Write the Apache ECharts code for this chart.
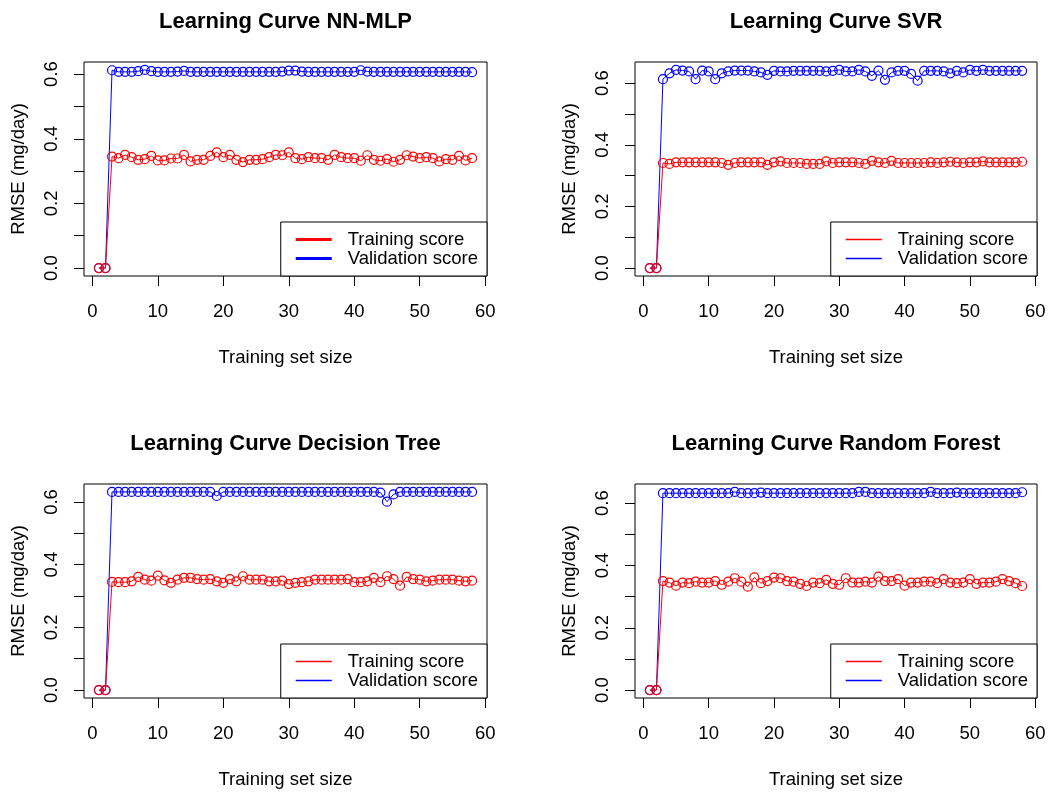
<!DOCTYPE html>
<html>
<head>
<meta charset="utf-8">
<script src="https://cdn.jsdelivr.net/npm/echarts@6/dist/echarts.min.js"></script>
<style>
  html, body { margin: 0; background: #fff; }
  #main { width: 1054px; height: 794px; }
</style>
</head>
<body>
<div id="main"></div>
<script>
// training set sizes (x)
var trainingSize = [1, 2, 3, 4, 5, 6, 7, 8, 9, 10, 11, 12, 13, 14, 15, 16, 17, 18, 19, 20,
  21, 22, 23, 24, 25, 26, 27, 28, 29, 30, 31, 32, 33, 34, 35, 36, 37, 38, 39, 40,
  41, 42, 43, 44, 45, 46, 47, 48, 49, 50, 51, 52, 53, 54, 55, 56, 57, 58];

// NN-MLP
var nnTrain = [0, 0, 0.345, 0.340, 0.350, 0.343, 0.335, 0.337, 0.347, 0.333, 0.333, 0.339,
  0.339, 0.350, 0.330, 0.335, 0.335, 0.347, 0.358, 0.343, 0.350, 0.335,
  0.328, 0.335, 0.335, 0.337, 0.343, 0.350, 0.349, 0.358, 0.340, 0.337,
  0.343, 0.340, 0.340, 0.335, 0.350, 0.343, 0.340, 0.340, 0.332, 0.349,
  0.335, 0.332, 0.337, 0.329, 0.335, 0.349, 0.345, 0.340, 0.343, 0.340,
  0.330, 0.337, 0.335, 0.347, 0.333, 0.340];
var nnValid = [0, 0, 0.612, 0.607, 0.607, 0.607, 0.609, 0.613, 0.609, 0.607, 0.607, 0.607,
  0.608, 0.610, 0.607, 0.607, 0.607, 0.607, 0.607, 0.607, 0.607, 0.607,
  0.607, 0.607, 0.607, 0.607, 0.607, 0.607, 0.608, 0.611, 0.611, 0.608,
  0.607, 0.607, 0.607, 0.607, 0.607, 0.607, 0.607, 0.607, 0.612, 0.608,
  0.607, 0.607, 0.607, 0.607, 0.607, 0.607, 0.607, 0.607, 0.607, 0.607,
  0.607, 0.607, 0.607, 0.607, 0.607, 0.606];

// SVR
var svrTrain = [0, 0, 0.341, 0.338, 0.343, 0.343, 0.343, 0.343, 0.343, 0.343, 0.343, 0.341,
  0.335, 0.341, 0.343, 0.343, 0.343, 0.343, 0.335, 0.343, 0.346, 0.341,
  0.341, 0.341, 0.338, 0.338, 0.338, 0.346, 0.341, 0.343, 0.343, 0.343,
  0.341, 0.338, 0.348, 0.343, 0.341, 0.348, 0.341, 0.341, 0.341, 0.341,
  0.341, 0.343, 0.341, 0.343, 0.345, 0.343, 0.341, 0.343, 0.343, 0.346,
  0.343, 0.343, 0.343, 0.343, 0.343, 0.345];
var svrValid = [0, 0, 0.613, 0.632, 0.643, 0.641, 0.638, 0.613, 0.641, 0.638, 0.613, 0.632,
  0.638, 0.641, 0.641, 0.641, 0.638, 0.635, 0.627, 0.640, 0.638, 0.638,
  0.640, 0.640, 0.640, 0.640, 0.640, 0.638, 0.640, 0.643, 0.638, 0.638,
  0.643, 0.638, 0.624, 0.641, 0.611, 0.635, 0.640, 0.640, 0.630, 0.608,
  0.640, 0.640, 0.640, 0.638, 0.632, 0.640, 0.635, 0.643, 0.640, 0.643,
  0.640, 0.640, 0.640, 0.640, 0.640, 0.640];

// Decision Tree
var dtTrain = [0, 0, 0.345, 0.344, 0.344, 0.347, 0.361, 0.352, 0.349, 0.365, 0.350, 0.342,
  0.352, 0.358, 0.358, 0.354, 0.352, 0.354, 0.347, 0.342, 0.354, 0.347,
  0.363, 0.352, 0.352, 0.352, 0.347, 0.347, 0.349, 0.338, 0.342, 0.344,
  0.347, 0.352, 0.352, 0.352, 0.352, 0.352, 0.354, 0.344, 0.344, 0.347,
  0.358, 0.344, 0.363, 0.354, 0.333, 0.361, 0.354, 0.352, 0.347, 0.349,
  0.352, 0.352, 0.352, 0.349, 0.347, 0.349];
var dtValid = [0, 0, 0.632, 0.632, 0.632, 0.632, 0.632, 0.632, 0.632, 0.632, 0.632, 0.632,
  0.632, 0.632, 0.632, 0.632, 0.632, 0.632, 0.619, 0.632, 0.632, 0.632,
  0.632, 0.632, 0.632, 0.632, 0.632, 0.632, 0.632, 0.632, 0.632, 0.632,
  0.632, 0.632, 0.632, 0.632, 0.632, 0.632, 0.632, 0.632, 0.632, 0.632,
  0.632, 0.630, 0.601, 0.624, 0.632, 0.632, 0.632, 0.632, 0.632, 0.632,
  0.632, 0.632, 0.632, 0.632, 0.632, 0.632];

// Random Forest
var rfTrain = [0, 0, 0.350, 0.345, 0.335, 0.345, 0.343, 0.348, 0.345, 0.345, 0.350, 0.338,
  0.348, 0.359, 0.348, 0.332, 0.362, 0.343, 0.350, 0.361, 0.359, 0.350,
  0.348, 0.341, 0.334, 0.345, 0.343, 0.354, 0.341, 0.338, 0.359, 0.345,
  0.345, 0.348, 0.345, 0.364, 0.350, 0.350, 0.356, 0.335, 0.345, 0.345,
  0.348, 0.348, 0.343, 0.356, 0.345, 0.343, 0.345, 0.356, 0.341, 0.345,
  0.345, 0.348, 0.356, 0.350, 0.343, 0.334];
var rfValid = [0, 0, 0.632, 0.632, 0.632, 0.632, 0.632, 0.632, 0.632, 0.632, 0.632, 0.632,
  0.632, 0.636, 0.632, 0.632, 0.632, 0.634, 0.632, 0.632, 0.632, 0.632,
  0.632, 0.632, 0.632, 0.632, 0.632, 0.632, 0.632, 0.632, 0.632, 0.632,
  0.636, 0.636, 0.632, 0.632, 0.632, 0.632, 0.632, 0.632, 0.632, 0.632,
  0.632, 0.636, 0.632, 0.632, 0.632, 0.634, 0.632, 0.632, 0.632, 0.632,
  0.632, 0.632, 0.632, 0.632, 0.632, 0.635];

var xTicks = [0, 10, 20, 30, 40, 50, 60];
var yTicks = [0, 0.1, 0.2, 0.3, 0.4, 0.5, 0.6];
var yLabels = [0, 0.2, 0.4, 0.6];

var font = "'Liberation Sans', Arial, Helvetica, sans-serif";

var panels = [
  { title: 'Learning Curve NN-MLP', train: nnTrain, valid: nnValid, left: 84, top: 62, width: 403, lw: 3 },
  { title: 'Learning Curve SVR', train: svrTrain, valid: svrValid, left: 635, top: 62, width: 402, lw: 1.5 },
  { title: 'Learning Curve Decision Tree', train: dtTrain, valid: dtValid, left: 84, top: 484, width: 403, lw: 1.5 },
  { title: 'Learning Curve Random Forest', train: rfTrain, valid: rfValid, left: 635, top: 484, width: 402, lw: 1.5 }
];
var H = 214;

var titles = [], grids = [], xAxes = [], yAxes = [], legends = [], series = [];

panels.forEach(function (p, i) {
  // R style 4% padding on each side of the data range
  var xMinD = trainingSize[0], xMaxD = trainingSize[trainingSize.length - 1];
  var xPad = (xMaxD - xMinD) * 0.04;
  var yMaxD = Math.max.apply(null, p.train.concat(p.valid));
  var yPad = yMaxD * 0.04;

  titles.push({
    text: p.title, left: p.left + p.width / 2, top: p.top - 51, textAlign: 'center', padding: 0,
    textStyle: { fontSize: 22, fontWeight: 'bold', color: '#000', fontFamily: font }
  });
  grids.push({
    left: p.left, top: p.top, width: p.width, height: H,
    show: true, borderColor: '#000', borderWidth: 1, backgroundColor: 'transparent',
    containLabel: false, outerBoundsMode: 'none'
  });
  xAxes.push({
    gridIndex: i, type: 'value', min: xMinD - xPad, max: xMaxD + xPad,
    axisLine: { show: false, onZero: false }, splitLine: { show: false },
    axisTick: { show: true, length: 10, customValues: xTicks, lineStyle: { color: '#000', width: 1 } },
    axisLabel: { customValues: xTicks, margin: 26, fontSize: 18.5, color: '#000', fontFamily: font },
    name: 'Training set size', nameLocation: 'middle', nameGap: 72,
    nameTextStyle: { fontSize: 18.5, color: '#000', fontFamily: font }
  });
  yAxes.push({
    gridIndex: i, type: 'value', min: -yPad, max: yMaxD + yPad,
    axisLine: { show: false, onZero: false }, splitLine: { show: false },
    axisTick: { show: true, length: 10, customValues: yTicks, lineStyle: { color: '#000', width: 1 } },
    axisLabel: {
      customValues: yLabels, rotate: 90, margin: 22.5, fontSize: 18.5, color: '#000', fontFamily: font,
      formatter: function (v) { return Number(v).toFixed(1); }
    },
    name: 'RMSE (mg/day)', nameLocation: 'middle', nameGap: 56, nameRotate: 90,
    nameTextStyle: { fontSize: 18.5, color: '#000', fontFamily: font }
  });
  legends.push({
    orient: 'vertical',
    right: 1054 - (p.left + p.width), bottom: 794 - (p.top + H),
    padding: [8, 9, 8, 15], itemGap: 0, itemWidth: 36, itemHeight: p.lw, icon: 'rect',
    borderColor: '#000', borderWidth: 1, borderRadius: 0, backgroundColor: '#fff',
    selectedMode: false,
    itemStyle: { borderWidth: 0 },
    textStyle: { fontSize: 18.5, color: '#000', fontFamily: font, lineHeight: 15.5, padding: [0, 0, 0, 11] },
    data: [
      { name: 'Training score', itemStyle: { color: 'red' } },
      { name: 'Validation score', itemStyle: { color: 'blue' } }
    ]
  });

  series.push({
    type: 'line', name: 'Validation score', xAxisIndex: i, yAxisIndex: i,
    data: trainingSize.map(function (x, j) { return [x, p.valid[j]]; }),
    symbol: 'circle', symbolSize: 9,
    itemStyle: { color: 'rgba(0,0,0,0)', borderColor: 'blue', borderWidth: 1.2 },
    lineStyle: { color: 'blue', width: 1 },
    emphasis: { disabled: true }, z: 2
  });
  series.push({
    type: 'line', name: 'Training score', xAxisIndex: i, yAxisIndex: i,
    data: trainingSize.map(function (x, j) { return [x, p.train[j]]; }),
    symbol: 'circle', symbolSize: 9,
    itemStyle: { color: 'rgba(0,0,0,0)', borderColor: 'red', borderWidth: 1.2 },
    lineStyle: { color: 'red', width: 1 },
    emphasis: { disabled: true }, z: 3
  });
});

var myChart = echarts.init(document.getElementById('main'));
myChart.setOption({
  animation: false,
  backgroundColor: '#fff',
  title: titles,
  grid: grids,
  xAxis: xAxes,
  yAxis: yAxes,
  legend: legends,
  tooltip: { show: false },
  series: series
});
</script>
</body>
</html>
